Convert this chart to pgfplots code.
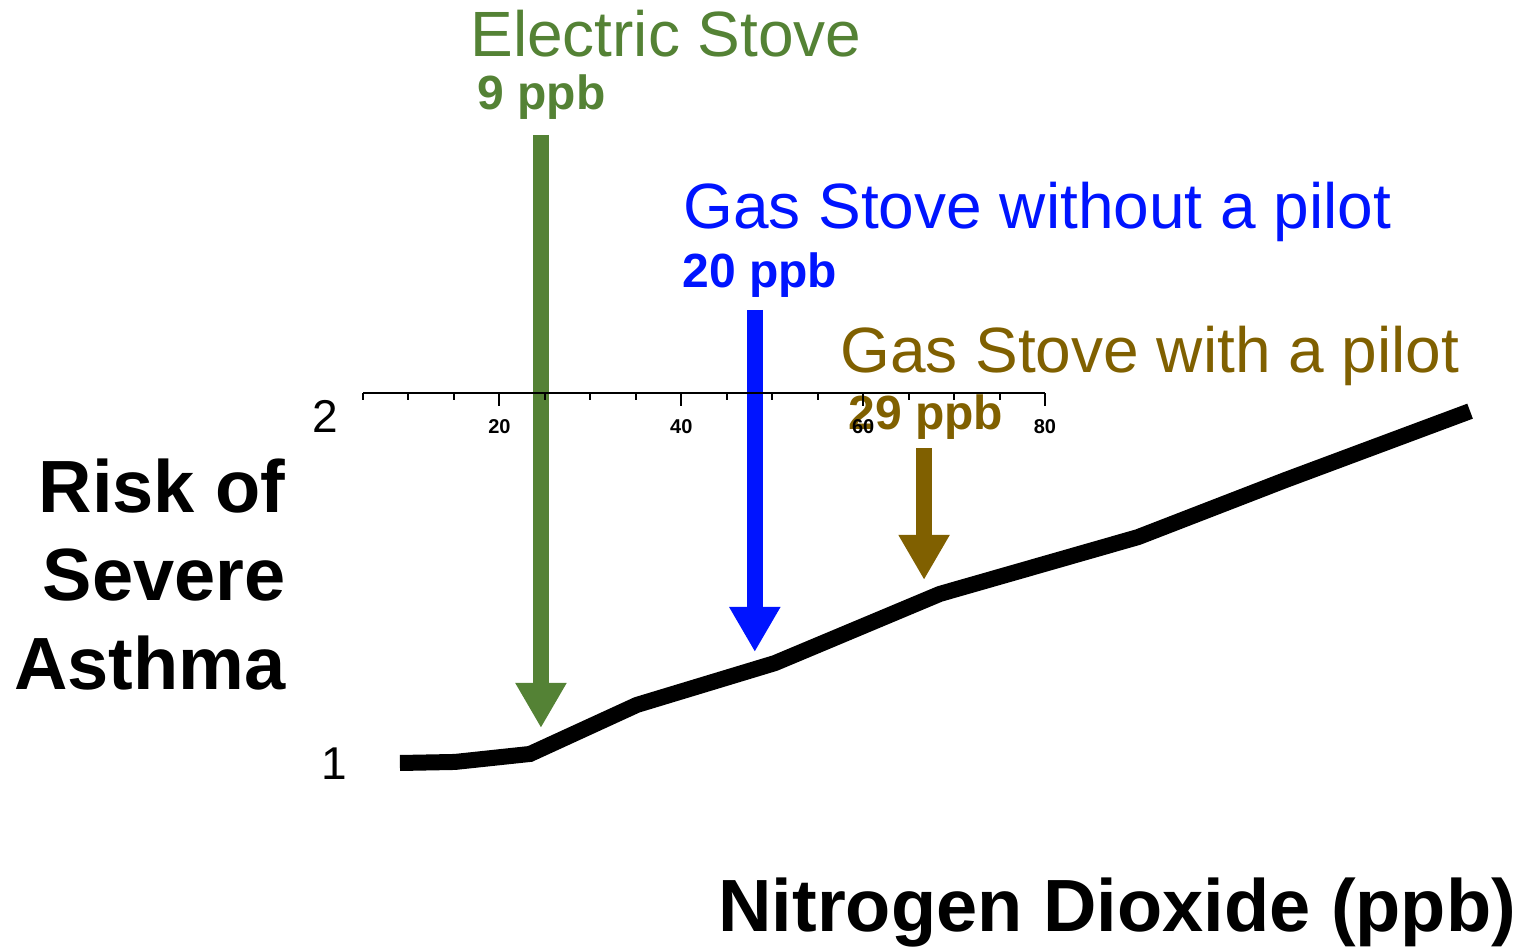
\documentclass[border=0pt]{standalone}
\usepackage{fontspec}
\setmainfont{Liberation Sans}
\usepackage{pgfplots}
\pgfplotsset{compat=1.18}
\usetikzlibrary{arrows.meta}
\definecolor{elgreen}{RGB}{84,130,53}
\definecolor{gasblue}{RGB}{0,20,255}
\definecolor{pilotbrown}{RGB}{128,96,0}
% pixel -> data: x = (px-318)/9.1 ; y = 1 + (763-py)/348
\begin{document}
\begin{tikzpicture}
\begin{axis}[name=main, at={(0,0)}, anchor=south west,
  scale only axis, width=761bp, height=474bp,
  xmin=-34.945, xmax=132.308, ymin=0.46839, ymax=3.19253,
  hide axis, clip=false]
\addplot[black, line width=8bp] coordinates {
  (9.0,1.0) (15.05,1.003) (23.3,1.026) (35.05,1.167) (50.2,1.287)
  (68.35,1.486) (90.1,1.649) (106.3,1.813) (126.6,2.011)};
\addplot[elgreen, line width=8bp, -{Triangle[width=24bp,length=22.5bp]}]
  coordinates {(24.5,2.805) (24.5,1.1006)};
\addplot[gasblue, line width=8bp, -{Triangle[width=24bp,length=22.5bp]}]
  coordinates {(48.0,2.302) (48.0,1.319)};
\addplot[pilotbrown, line width=8bp, -{Triangle[width=24bp,length=22.5bp]}]
  coordinates {(66.6,1.905) (66.6,1.526)};
\node[anchor=base west, inner sep=0pt, text=elgreen, font=\fontsize{32bp}{38bp}\selectfont]
  at (axis cs:16.70,3.029) {Electric Stove};
\node[anchor=base west, inner sep=0pt, text=elgreen, font=\fontsize{24bp}{28bp}\selectfont\bfseries]
  at (axis cs:17.47,2.879) {9 ppb};
\node[anchor=base west, inner sep=0pt, text=gasblue, font=\fontsize{32bp}{38bp}\selectfont]
  at (axis cs:40.11,2.537) {Gas Stove without a pilot};
\node[anchor=base west, inner sep=0pt, text=gasblue, font=\fontsize{24bp}{28bp}\selectfont\bfseries]
  at (axis cs:40.0,2.365) {20 ppb};
\node[anchor=base west, inner sep=0pt, text=pilotbrown, font=\fontsize{32bp}{38bp}\selectfont]
  at (axis cs:57.36,2.121) {Gas Stove with a pilot};
\node[anchor=base west, inner sep=0pt, text=pilotbrown, font=\fontsize{24bp}{28bp}\selectfont\bfseries]
  at (axis cs:58.24,1.957) {29 ppb};
\node[anchor=base east, inner sep=0pt, font=\fontsize{37bp}{44bp}\selectfont\bfseries]
  at (axis cs:-3.52,1.721) {Risk of};
\node[anchor=base east, inner sep=0pt, font=\fontsize{37bp}{44bp}\selectfont\bfseries]
  at (axis cs:-3.52,1.468) {Severe};
\node[anchor=base east, inner sep=0pt, font=\fontsize{37bp}{44bp}\selectfont\bfseries]
  at (axis cs:-3.52,1.210) {Asthma};
\node[anchor=base west, inner sep=0pt, font=\fontsize{37bp}{44bp}\selectfont\bfseries]
  at (axis cs:43.96,0.5144) {Nitrogen Dioxide (ppb)};
\node[anchor=base east, inner sep=0pt, font=\fontsize{23bp}{28bp}\selectfont]
  at (axis cs:2.20,1.951) {2};
\node[anchor=base east, inner sep=0pt, font=\fontsize{23bp}{28bp}\selectfont]
  at (axis cs:3.19,0.954) {1};
\end{axis}
\begin{axis}[at={(181.5bp,277.5bp)}, anchor=south west,
  scale only axis, width=341bp, height=20bp,
  xmin=5, xmax=80, ymin=0, ymax=1,
  axis x line*=bottom, axis y line=none,
  axis line style={line width=1bp, black, -},
  xtick={20,40,60,80}, minor xtick={5,10,15,25,30,35,45,50,55,65,70,75},
  tick align=outside, major tick length=6.5bp, minor tick length=3.5bp,
  every tick/.style={line width=1bp, black},
  xticklabel style={font=\fontsize{10bp}{12bp}\selectfont\bfseries, yshift=-3bp},
  /pgf/number format/assume math mode=true]
\addplot[draw=none] coordinates {(5,0) (80,0)};
\end{axis}
\pgfresetboundingbox
\path (main.south west) rectangle (main.north east);
\end{tikzpicture}
\end{document}
